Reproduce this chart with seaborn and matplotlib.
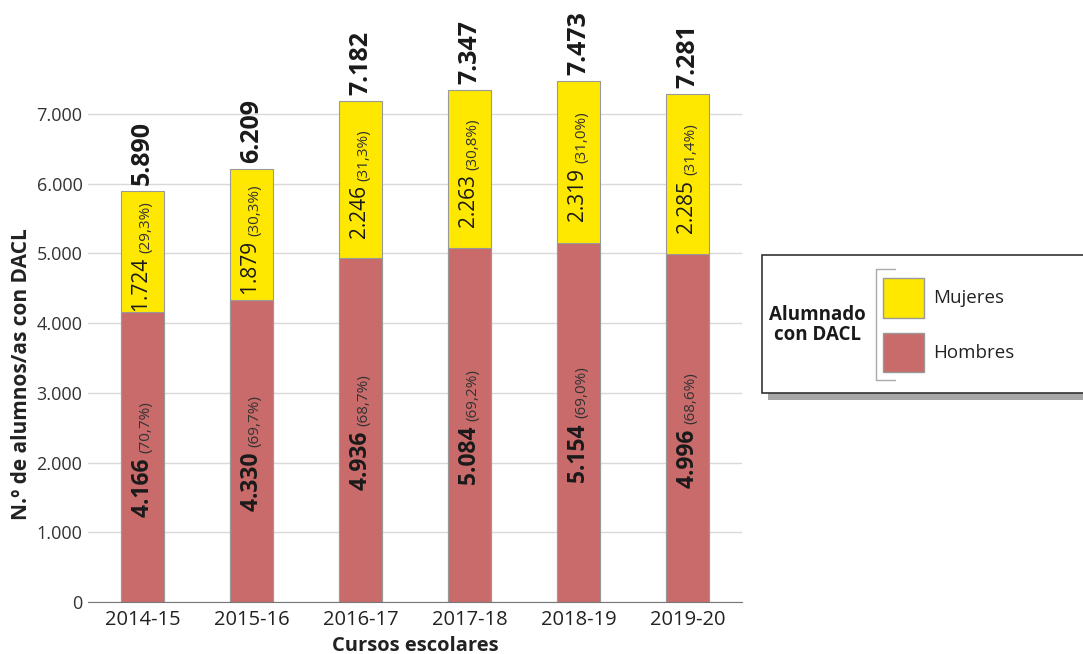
import matplotlib
matplotlib.use("Agg")
import matplotlib.pyplot as plt
import seaborn as sns
import pandas as pd
from matplotlib.patches import Rectangle, Patch
from matplotlib.lines import Line2D

# datos
cursos = ["2014-15", "2015-16", "2016-17", "2017-18", "2018-19", "2019-20"]
hombres = [4166, 4330, 4936, 5084, 5154, 4996]
mujeres = [1724, 1879, 2246, 2263, 2319, 2285]
pct_hombres = ["70,7%", "69,7%", "68,7%", "69,2%", "69,0%", "68,6%"]
pct_mujeres = ["29,3%", "30,3%", "31,3%", "30,8%", "31,0%", "31,4%"]
totales = [5890, 6209, 7182, 7347, 7473, 7281]

col_muj = "#FFE800"
col_hom = "#C96B6B"


def miles(v):
    return f"{v:,}".replace(",", ".")


sns.set_style("white")
plt.rcParams["font.family"] = ["Open Sans", "DejaVu Sans"]

df = pd.DataFrame({"curso": cursos, "hombres": hombres, "mujeres": mujeres})
df["total"] = df["hombres"] + df["mujeres"]

fig = plt.figure(figsize=(10.83, 6.54), dpi=100)
ax = fig.add_axes([0.0813, 0.0795, 0.604, 0.906])

# barras apiladas: total (amarillo) detras, hombres (rojo) delante
sns.barplot(data=df, x="curso", y="total", color=col_muj, width=0.4,
            edgecolor="#999999", linewidth=0.8, saturation=1, ax=ax)
sns.barplot(data=df, x="curso", y="hombres", color=col_hom, width=0.4,
            edgecolor="#999999", linewidth=0.8, saturation=1, ax=ax)

ax.set_ylim(0, 8500)
ax.set_xlim(-0.5, 5.5)
ax.set_yticks(range(0, 8000, 1000))
ax.set_yticklabels([miles(v) for v in range(0, 8000, 1000)], fontsize=13, color="#333333")
ax.tick_params(axis="x", labelsize=14.5, colors="#222222", length=0, pad=6)
ax.tick_params(axis="y", length=0, pad=4)
ax.yaxis.grid(True, color="#d9d9d9", linewidth=1)
ax.set_axisbelow(True)
for s in ["top", "right", "left"]:
    ax.spines[s].set_visible(False)
ax.spines["bottom"].set_color("#777777")

ax.set_xlabel("Cursos escolares", fontsize=14.5, fontweight="bold", color="#222222", labelpad=4)
ax.set_ylabel("N.º de alumnos/as con DACL", fontsize=15, fontweight="bold", color="#222222")
ax.yaxis.set_label_coords(-0.086, 0.385)

for i in range(len(cursos)):
    h, m, t = hombres[i], mujeres[i], totales[i]
    # total encima
    ax.text(i, t + 90, miles(t), rotation=90, ha="center", va="bottom",
            fontsize=18, fontweight="bold", color="#1a1a1a")
    # mujeres
    ym = h + m / 2
    ax.text(i, ym - 20, miles(m) + " ", rotation=90, rotation_mode="anchor",
            ha="right", va="center", fontsize=15, color="#1a1a1a")
    ax.text(i + 0.03, ym - 20, f"({pct_mujeres[i]})", rotation=90, rotation_mode="anchor",
            ha="left", va="center", fontsize=11, color="#333333")
    # hombres
    yh = h / 2
    ax.text(i, yh + 60, miles(h) + " ", rotation=90, rotation_mode="anchor",
            ha="right", va="center", fontsize=16.5, fontweight="bold", color="#1a1a1a")
    ax.text(i + 0.03, yh + 60, f"({pct_hombres[i]})", rotation=90, rotation_mode="anchor",
            ha="left", va="center", fontsize=11, color="#333333")

# leyenda con caja y sombra
W, H = 1083, 654
def fx(px):
    return px / W
def fy(py):
    return 1 - py / H

fig.patches.append(Rectangle((fx(768), fy(400)), fx(330), fy(262) - fy(400),
                             transform=fig.transFigure, facecolor="#a6a6a6",
                             edgecolor="none", zorder=1))
fig.patches.append(Rectangle((fx(762), fy(393)), fx(330), fy(255) - fy(393),
                             transform=fig.transFigure, facecolor="white",
                             edgecolor="#333333", linewidth=1.2, zorder=2))
fig.text(fx(817), fy(325), "Alumnado\ncon DACL", ha="center", va="center",
         fontsize=13.5, fontweight="bold", color="#1a1a1a", linespacing=1.0, zorder=3)
fig.lines.append(Line2D([fx(895), fx(876), fx(876), fx(895)], [fy(269), fy(269), fy(380), fy(380)],
                        transform=fig.transFigure, color="#aaaaaa", linewidth=1, zorder=3))

handles = [Patch(facecolor=col_muj, edgecolor="#999999", label="Mujeres"),
           Patch(facecolor=col_hom, edgecolor="#999999", label="Hombres")]
leg = fig.legend(handles=handles, loc="center left", bbox_to_anchor=(fx(877), fy(325)),
                 frameon=False, fontsize=13.5, handlelength=2.2, handleheight=2.9,
                 labelspacing=0.8, handletextpad=0.5, borderaxespad=0, borderpad=0.3)
for t in leg.get_texts():
    t.set_color("#222222")
leg.set_zorder(4)

fig.savefig("out.png", dpi=100)
